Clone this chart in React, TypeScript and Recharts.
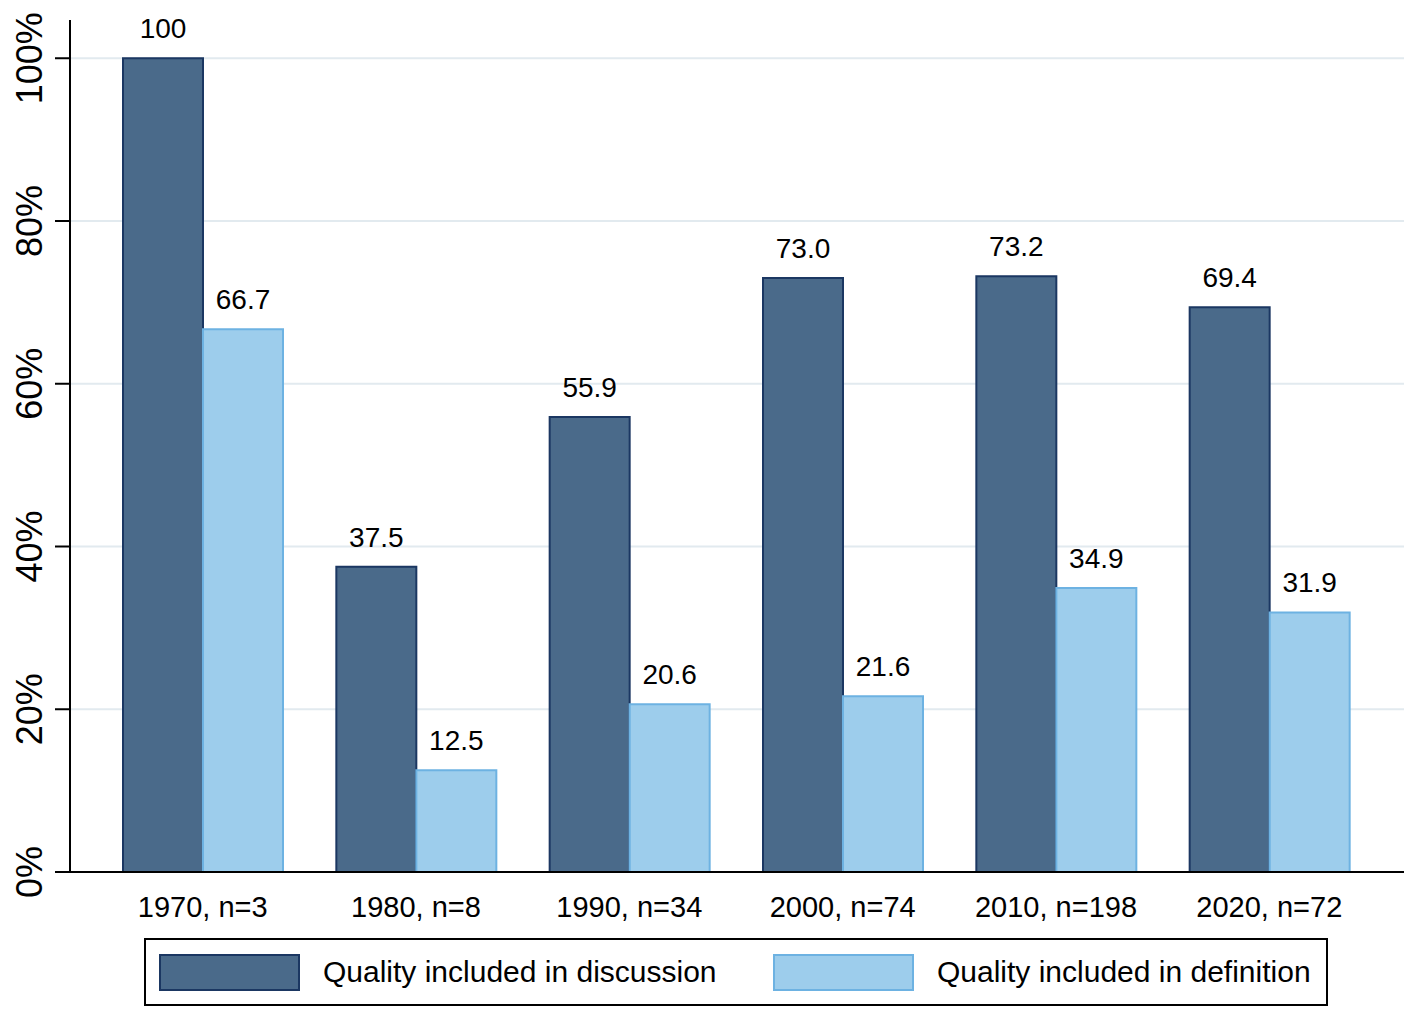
import React from "react";
import { BarChart, Bar, XAxis, YAxis, CartesianGrid, LabelList, Legend } from "recharts";

const categories = ["1970, n=3", "1980, n=8", "1990, n=34", "2000, n=74", "2010, n=198", "2020, n=72"];
const discussion = [100, 37.5, 55.9, 73.0, 73.2, 69.4];
const definition = [66.7, 12.5, 20.6, 21.6, 34.9, 31.9];
const yTicks = [0, 20, 40, 60, 80, 100];
const gridTicks = [20, 40, 60, 80, 100];
const yMax = 104.7;
const seriesNames = ["Quality included in discussion", "Quality included in definition"];

const data = categories.map((c, i) => ({ cat: c, discussion: discussion[i], definition: definition[i] }));

const FONT = '"Liberation Sans", Arial, Helvetica, sans-serif';
const DARK = "#4a6a8a";
const DARK_STROKE = "#1b3762";
const LIGHT = "#9dcdec";
const LIGHT_STROKE = "#6db2e2";
const GRID = "#e2eaef";

const fmt = (v: any) => (Number(v) === 100 ? "100" : Number(v).toFixed(1));

const YTick = (props: any) => {
  const { y, payload } = props;
  const x = 34;
  return (
    <text x={x} y={y} transform={`rotate(-90 ${x} ${y})`} textAnchor="middle" fontSize={36} fontFamily={FONT} fill="#000">
      {payload.value}%
    </text>
  );
};

const XTick = (props: any) => {
  const { x, payload } = props;
  return (
    <text x={x} y={909} textAnchor="middle" fontSize={29} fontFamily={FONT} fill="#000">
      {payload.value}
    </text>
  );
};

const gridGen = (props: any) => {
  const yAxis = props && props.yAxis;
  const scale = yAxis && yAxis.scale;
  if (typeof scale === "function") {
    const pts = gridTicks.map((t) => Number(scale(t)));
    if (pts.every((p) => Number.isFinite(p))) return pts;
  }
  const off = (props && props.offset) || {};
  const top = Number(off.top ?? 12);
  const h = Number(off.height ?? 852);
  return gridTicks.map((t) => top + h * (1 - t / yMax));
};

const LegendBox = () => (
  <div
    style={{
      position: "relative",
      width: 1184,
      height: 68,
      border: "2px solid #000",
      boxSizing: "border-box",
      fontFamily: FONT,
      fontSize: 30,
      color: "#000",
      background: "#fff",
    }}
  >
    <div style={{ position: "absolute", left: 13, top: 14, width: 141, height: 37, background: DARK, border: `2px solid ${DARK_STROKE}`, boxSizing: "border-box" }} />
    <div style={{ position: "absolute", left: 177, top: 0, height: 64, lineHeight: "64px", whiteSpace: "nowrap" }}>{seriesNames[0]}</div>
    <div style={{ position: "absolute", left: 627, top: 14, width: 141, height: 37, background: LIGHT, border: `2px solid ${LIGHT_STROKE}`, boxSizing: "border-box" }} />
    <div style={{ position: "absolute", left: 791, top: 0, height: 64, lineHeight: "64px", whiteSpace: "nowrap" }}>{seriesNames[1]}</div>
  </div>
);

export default function App() {
  return (
    <div style={{ width: 1409, height: 1013, background: "#fff" }}>
      <BarChart
        width={1409}
        height={1013}
        data={data}
        margin={{ top: 12, right: 13, bottom: 99, left: 0 }}
        barCategoryGap={27}
        barGap={0}
      >
        <CartesianGrid vertical={false} stroke={GRID} strokeWidth={2} horizontalCoordinatesGenerator={gridGen} syncWithTicks={false} />
        <XAxis
          dataKey="cat"
          height={50}
          tickSize={0}
          tickLine={false}
          axisLine={{ stroke: "#000", strokeWidth: 2 }}
          padding={{ left: 26, right: 28 }}
          tick={<XTick />}
          interval={0}
        />
        <YAxis
          width={62}
          domain={[0, yMax]}
          ticks={yTicks}
          tickSize={15}
          axisLine={{ stroke: "#000", strokeWidth: 2 }}
          tickLine={{ stroke: "#000", strokeWidth: 2 }}
          tick={<YTick />}
          allowDataOverflow
        />
        <Legend
          layout="horizontal"
          verticalAlign="middle"
          align="center"
          wrapperStyle={{ position: "absolute", left: 136, top: 930, width: 1184, height: 68 }}
          content={() => <LegendBox />}
        />
        <Bar dataKey="discussion" name={seriesNames[0]} fill={DARK} stroke={DARK_STROKE} strokeWidth={2} isAnimationActive={false}>
          <LabelList dataKey="discussion" position="top" offset={20} formatter={fmt} fontSize={28} fontFamily={FONT} fill="#000" />
        </Bar>
        <Bar dataKey="definition" name={seriesNames[1]} fill={LIGHT} stroke={LIGHT_STROKE} strokeWidth={2} isAnimationActive={false}>
          <LabelList dataKey="definition" position="top" offset={20} formatter={fmt} fontSize={28} fontFamily={FONT} fill="#000" />
        </Bar>
      </BarChart>
    </div>
  );
}
